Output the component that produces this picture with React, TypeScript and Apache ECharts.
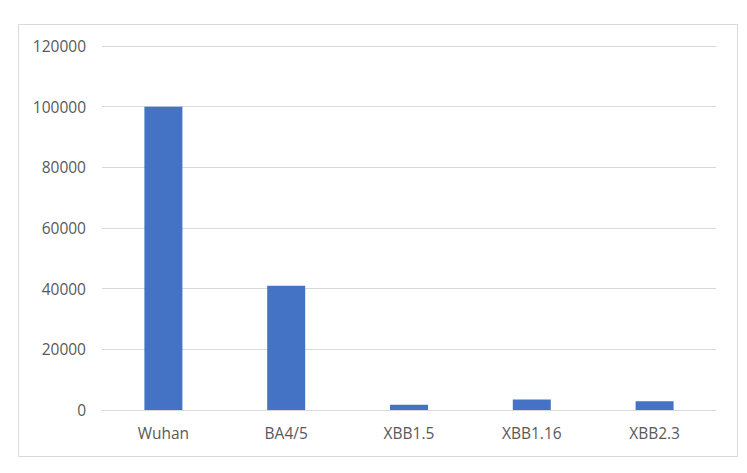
import { useEffect, useRef } from 'react'
import * as echarts from 'echarts'

const categories = ['Wuhan', 'BA4/5', 'XBB1.5', 'XBB1.16', 'XBB2.3']
const values = [100000, 41000, 1700, 3500, 2900]
const yTicks = { min: 0, max: 120000, interval: 20000 }

export default function App() {
  const chartRef = useRef<HTMLDivElement>(null)

  useEffect(() => {
    if (!chartRef.current) return
    const chart = echarts.init(chartRef.current, undefined, { renderer: 'svg' })

    chart.setOption({
      animation: false,
      backgroundColor: '#ffffff',
      textStyle: { fontFamily: 'Open Sans' },
      graphic: [
        {
          type: 'rect',
          shape: { x: 18.5, y: 24.5, width: 719, height: 432 },
          style: { fill: 'none', stroke: '#d9d9d9', lineWidth: 1 },
          silent: true,
        },
      ],
      grid: { left: 102, right: 31, top: 46, bottom: 63 },
      xAxis: {
        type: 'category',
        data: categories,
        axisLine: { lineStyle: { color: '#d9d9d9', width: 1 } },
        axisTick: { show: false },
        axisLabel: { color: '#595959', fontSize: 15.5, margin: 15 },
      },
      yAxis: {
        type: 'value',
        min: yTicks.min,
        max: yTicks.max,
        interval: yTicks.interval,
        axisLine: { show: false },
        axisTick: { show: false },
        axisLabel: {
          color: '#595959',
          fontSize: 15.5,
          margin: 16,
          formatter: (v: number) => String(v),
        },
        splitLine: { lineStyle: { color: '#d9d9d9', width: 1 } },
      },
      series: [
        {
          type: 'bar',
          data: values,
          barWidth: 38,
          itemStyle: { color: '#4472c4' },
        },
      ],
    })

    return () => {
      chart.dispose()
    }
  }, [])

  return (
    <div
      ref={chartRef}
      style={{ position: 'absolute', left: 0, top: 0, width: 747, height: 473 }}
    ></div>
  )
}
